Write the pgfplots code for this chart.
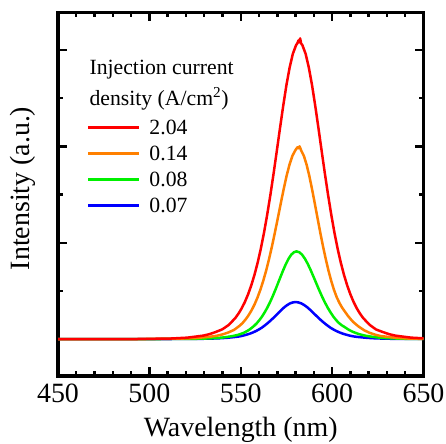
\documentclass[border=0pt]{standalone}
\usepackage{fontspec}
\setmainfont{Liberation Serif}
\usepackage{pgfplots}
\pgfplotsset{compat=1.18}
\definecolor{cred}{RGB}{255,0,0}
\definecolor{corange}{RGB}{255,128,0}
\definecolor{cgreen}{RGB}{0,240,0}
\definecolor{cblue}{RGB}{0,0,255}
\begin{document}
\begin{tikzpicture}
\useasboundingbox (0,0) rectangle (446bp,444bp);
\begin{axis}[
  at={(58bp,68bp)}, anchor=south west,
  scale only axis, width=365.5bp, height=363.5bp,
  xmin=450, xmax=650, ymin=-0.383, ymax=3.389,
  xtick={450,500,550,600,650}, minor x tick num=4,
  ytick={0,1,2,3}, minor y tick num=1, yticklabels={},
  tick align=inside, major tick length=8.5bp, minor tick length=5bp,
  every axis/.append style={line width=3.2bp},
  tick style={black, line width=2.4bp},
  axis line style={line width=3.2bp},
  /pgf/number format/assume math mode=true,
  ticklabel style={font=\fontsize{28}{32}\selectfont},
  xticklabel style={yshift=-2.7bp},
  label style={font=\fontsize{28}{32}\selectfont},
  xlabel={Wavelength (nm)},
  ylabel={Intensity (a.u.)},
  xlabel style={at={(axis description cs:0.5,-0.1678)}, anchor=base},
  ylabel style={at={(axis description cs:-0.0956,0.516)}, anchor=center},
  legend style={at={(axis description cs:0.0793,0.7047)}, anchor=north west,
    draw=none, fill=none, inner sep=0pt, outer sep=0pt,
    row sep=11bp, column sep=9bp,
    font=\fontsize{21.8}{24}\selectfont,
    nodes={inner sep=0pt, text height=15bp, text depth=0bp}},
  legend image code/.code={\draw[#1] (0bp,0bp) -- (51bp,0bp);},
  legend cell align=left,
  reverse legend,
  every axis plot/.append style={line width=2.5bp, line join=round},
]
\addplot[cblue, smooth] coordinates {
(450,0) (515,0.001) (525.75,0.002) (536.6,0.007) (542.8,0.014) (549,0.027) (552.1,0.040) (555.2,0.058) (558.3,0.083) (561.4,0.117) (564.5,0.162) (567.6,0.215) (570.7,0.274) (573.8,0.330) (576.9,0.370) (580,0.385) (583.2,0.370) (586.4,0.330) (589.6,0.274) (592.8,0.215) (596,0.162) (599.2,0.117) (602.4,0.083) (605.6,0.058) (608.8,0.040) (612,0.027) (618.4,0.014) (624.8,0.007) (636,0.002) (650,0.001)
};
\addlegendentry{0.07}
\addplot[cgreen] coordinates {
(450,0) (510,0.001) (522.5,0.002) (529.75,0.005) (537,0.011) (539.9,0.016) (542.8,0.023) (545.7,0.032) (548.6,0.044) (551.5,0.064) (552.95,0.078) (554.4,0.094) (555.85,0.114) (557.3,0.137) (558.75,0.164) (560.2,0.197) (561.65,0.234) (563.1,0.278) (564.55,0.327) (566,0.382) (567.45,0.443) (568.9,0.509) (570.35,0.578) (571.8,0.648) (573.25,0.716) (574.7,0.779) (576.15,0.833) (577.6,0.875) (579.05,0.901) (580.5,0.910) (582.05,0.901) (583.6,0.875) (585.15,0.833) (586.7,0.779) (588.25,0.716) (589.8,0.648) (591.35,0.578) (592.9,0.509) (594.45,0.443) (596,0.382) (597.55,0.327) (599.1,0.278) (600.65,0.234) (602.2,0.197) (603.75,0.166) (605.3,0.143) (606.85,0.125) (608.4,0.105) (609.95,0.088) (611.5,0.074) (614.6,0.052) (617.7,0.037) (620.8,0.027) (623.9,0.019) (627,0.013) (634.75,0.006) (642.5,0.002) (650,0.001)
};
\addlegendentry{0.08}
\addplot[corange] coordinates {
(450,0) (501.5,0.001) (517.5,0.005) (525.5,0.011) (533.5,0.025) (536.7,0.034) (539.9,0.048) (543.1,0.068) (546.3,0.095) (549.5,0.140) (551.1,0.169) (552.7,0.205) (554.3,0.248) (555.9,0.298) (557.5,0.358) (559.1,0.428) (560.7,0.510) (562.3,0.604) (563.9,0.711) (565.5,0.832) (567.1,0.964) (568.7,1.107) (570.3,1.257) (571.9,1.409) (573.5,1.557) (575.1,1.695) (576.7,1.812) (578.3,1.903) (579.9,1.960) (581,1.99) (581.5,1.98) (582.2,2.00) (583,1.960) (584.5,1.903) (586,1.812) (587.5,1.695) (589,1.557) (590.5,1.409) (592,1.257) (593.5,1.107) (595,0.964) (596.5,0.832) (598,0.711) (599.5,0.604) (601,0.512) (602.5,0.435) (604,0.375) (605.5,0.325) (607,0.285) (608.5,0.245) (610,0.210) (611.5,0.178) (614.5,0.130) (617.5,0.092) (620.5,0.065) (623.5,0.046) (626.5,0.032) (634,0.015) (641.5,0.006) (650,0.002)
};
\addlegendentry{0.14}
\addplot[cred] coordinates {
(450,0) (480,0) (494.5,0.001) (512,0.006) (520.75,0.015) (529.5,0.036) (533,0.052) (536.5,0.075) (540,0.102) (543.5,0.148) (547,0.218) (548.75,0.264) (550.5,0.319) (552.25,0.385) (554,0.464) (555.75,0.557) (557.5,0.666) (559.25,0.793) (561,0.939) (562.75,1.106) (564.5,1.294) (566.25,1.500) (568,1.722) (569.75,1.955) (571.5,2.192) (573.25,2.422) (575,2.636) (576.75,2.818) (578.5,2.960) (580.25,3.049) (581,3.07) (581.6,3.10) (582,3.08) (582.5,3.12) (583,3.07) (583.75,3.049) (585.5,2.960) (587.25,2.818) (589,2.636) (590.75,2.422) (592.5,2.192) (594.25,1.955) (596,1.722) (597.75,1.500) (599.5,1.294) (601.25,1.106) (603,0.939) (604.75,0.793) (606.5,0.666) (608.25,0.557) (610,0.464) (611.75,0.385) (613.5,0.319) (615.25,0.264) (617,0.218) (620.5,0.148) (624,0.100) (627.5,0.075) (631,0.052) (634.5,0.036) (643.25,0.015) (650,0.008)
};
\addlegendentry{2.04}
\node[anchor=base west, inner sep=0pt, font=\fontsize{21.8}{24}\selectfont] at (axis description cs:0.082,0.8297) {Injection current};
\node[anchor=base west, inner sep=0pt, font=\fontsize{21.8}{24}\selectfont] at (axis description cs:0.082,0.7445) {density (A/cm\textsuperscript{2})};
\end{axis}
\end{tikzpicture}
\end{document}
